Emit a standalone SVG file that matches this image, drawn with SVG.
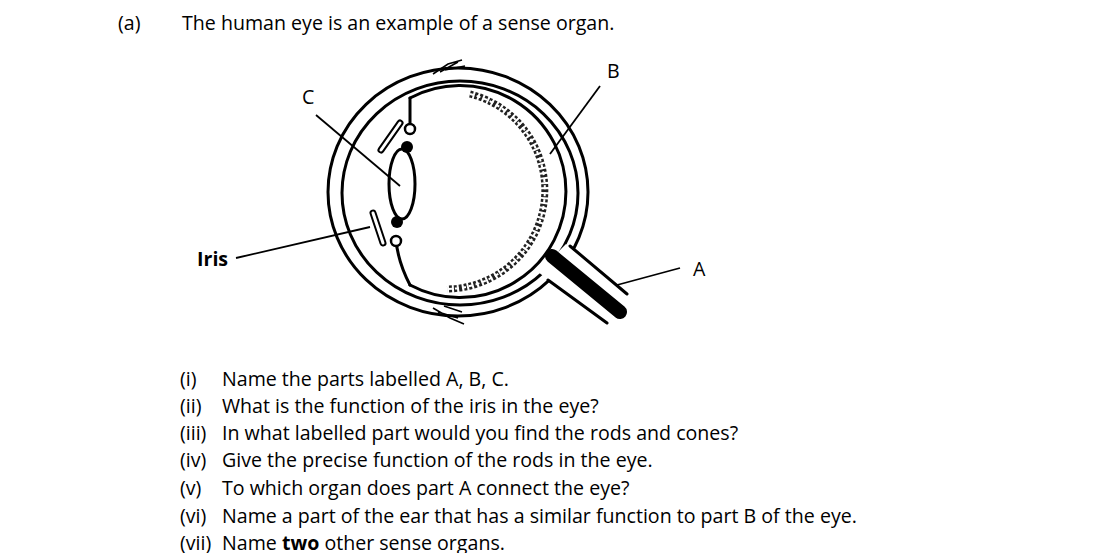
<svg xmlns="http://www.w3.org/2000/svg" width="1116" height="553" viewBox="0 0 1116 553">
<style>
text{font-family:"Open Sans","Liberation Sans",sans-serif;font-size:19.6px;fill:#000}
.l{fill:none;stroke:#000;stroke-width:3;stroke-linecap:round}
.t{fill:none;stroke:#000;stroke-width:1.6}
</style>
<rect width="1116" height="553" fill="#fff"/>
<text x="118" y="30">(a)</text>
<text x="182" y="30">The human eye is an example of a sense organ.</text>
<g id="eye">
<ellipse class="l" cx="458" cy="192" rx="130" ry="124"/>
<ellipse class="l" cx="460" cy="193" rx="118" ry="112"/>
<path class="l" d="M410,98 A106,106 0 1 1 410,285"/>
<path d="M470,94 A99,99 0 0 1 447,289" fill="none" stroke="#222" stroke-width="7" stroke-dasharray="3 2"/>
<path d="M470,94 A99,99 0 0 1 447,289" fill="none" stroke="#fff" stroke-width="2" stroke-dasharray="4 3"/>
<g id="nerve">
<polygon points="566,244 632,298 610,326 538,272" fill="#fff"/>
<path class="l" d="M570,246 L627,294 M548,280 L607,323"/>
<path d="M552,256 L620,312" stroke="#000" stroke-width="14" stroke-linecap="round"/>
</g>
<path class="l" d="M410,98 Q410,112 410,128 M410,285 Q398,262 396,240"/>
<ellipse cx="402" cy="184" rx="13" ry="35" fill="none" stroke="#000" stroke-width="3"/>
<circle cx="407" cy="147" r="6" fill="#000"/>
<circle cx="397" cy="222" r="6" fill="#000"/>
<circle cx="410" cy="129" r="5" fill="#fff" stroke="#000" stroke-width="2.5"/>
<circle cx="396" cy="241" r="5" fill="#fff" stroke="#000" stroke-width="2.5"/>
<path d="M381,150 L400,123" stroke="#000" stroke-width="7" stroke-linecap="round"/>
<path d="M381,150 L400,123" stroke="#fff" stroke-width="3" stroke-linecap="round"/>
<path d="M373,213 L383,243" stroke="#000" stroke-width="7" stroke-linecap="round"/>
<path d="M373,213 L383,243" stroke="#fff" stroke-width="3" stroke-linecap="round"/>
<path class="t" d="M433,74 L448,64 L462,60 M440,72 L458,62 M445,70 L465,66"/>
<path class="t" d="M433,308 L450,318 L464,324 M438,312 L458,318 M444,306 L462,312"/>
</g>
<g id="connectors" stroke="#000" stroke-width="1.8">
<line x1="316" y1="115" x2="400" y2="186"/>
<line x1="236" y1="258" x2="370" y2="227"/>
<line x1="600" y1="86" x2="550" y2="154"/>
<line x1="680" y1="268" x2="617" y2="285"/>
</g>
<g id="labels">
<text x="302" y="104" font-size="16">C</text>
<text x="607" y="78" font-size="16">B</text>
<text x="693" y="276" font-size="16">A</text>
<text x="197" y="266" font-size="16" font-weight="bold">Iris</text>
</g>
<g id="questions">
<text x="180" y="386">(i)</text><text x="222" y="386">Name the parts labelled A, B, C.</text>
<text x="180" y="413">(ii)</text><text x="222" y="413">What is the function of the iris in the eye?</text>
<text x="180" y="440">(iii)</text><text x="222" y="440">In what labelled part would you find the rods and cones?</text>
<text x="180" y="467">(iv)</text><text x="222" y="467">Give the precise function of the rods in the eye.</text>
<text x="180" y="495">(v)</text><text x="222" y="495">To which organ does part A connect the eye?</text>
<text x="180" y="523">(vi)</text><text x="222" y="523">Name a part of the ear that has a similar function to part B of the eye.</text>
<text x="180" y="550">(vii)</text><text x="222" y="550">Name <tspan font-weight="bold">two</tspan> other sense organs.</text>
</g>
</svg>
